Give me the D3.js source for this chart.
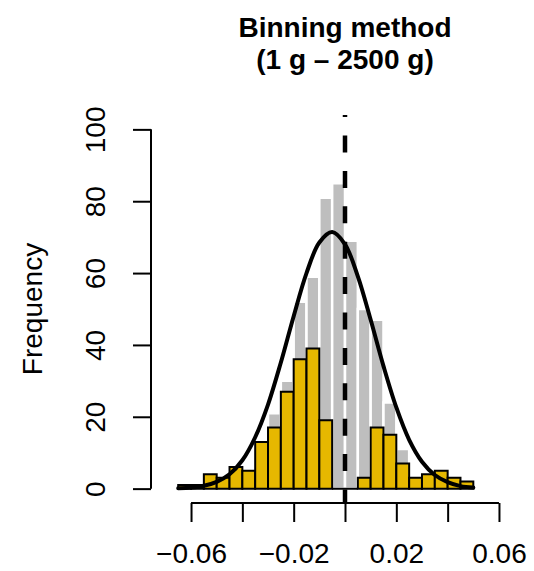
<!DOCTYPE html>
<html>
<head>
<meta charset="utf-8">
<script src="https://cdn.jsdelivr.net/npm/d3@7"></script>
<style>
  body { margin: 0; background: #fff; }
  svg { display: block; font-family: "Liberation Sans", Arial, Helvetica, sans-serif; }
</style>
</head>
<body>
<svg id="chart" width="534" height="571"></svg>
<script>
// bins (left edges), width 0.005
var binStarts = [-0.065, -0.06, -0.055, -0.05, -0.045, -0.04, -0.035, -0.03, -0.025, -0.02, -0.015, -0.01,
                 -0.005, 0, 0.005, 0.01, 0.015, 0.02, 0.025, 0.03, 0.035, 0.04, 0.045];
var binWidth = 0.005;
var grayCounts = [1, 1, 4, 3, 6, 5, 13, 21, 30, 52, 59, 81, 85, 69, 50, 47, 24, 11, 3, 4, 5, 3, 2];
var goldCounts = [1, 1, 4, 3, 6, 5, 13, 17, 27, 36, 39, 19, 0, 0, 3, 17, 15, 7, 3, 4, 5, 3, 2];

// fitted curve
var curveX = [-0.065, -0.06, -0.055, -0.05, -0.045, -0.04, -0.035, -0.03, -0.025, -0.02, -0.015, -0.01,
              -0.005, 0, 0.005, 0.01, 0.015, 0.02, 0.025, 0.03, 0.035, 0.04, 0.045, 0.05];
var curveY = [0.1, 0.3, 0.8, 1.9, 4.0, 7.9, 14.3, 23.4, 35.1, 48.0, 60.0, 68.5,
              71.4, 68.0, 59.1, 47.0, 34.1, 22.6, 13.6, 7.5, 3.8, 1.8, 0.7, 0.3];

var xTicks = [-0.06, -0.04, -0.02, 0, 0.02, 0.04, 0.06];
var xTickLabels = ["\u22120.06", "", "\u22120.02", "", "0.02", "", "0.06"];
var yTicks = [0, 20, 40, 60, 80, 100];
var titleLines = ["Binning method", "(1 g \u2013 2500 g)"];
var yTitle = "Frequency";
var refLine = 0;

var xlim = [-0.07, 0.07], ylim = [0, 100];

var svg = d3.select("#chart");
var plot = {left: 151, right: 539, top: 115, bottom: 503};

// R style 4% padding
var padX = (xlim[1] - xlim[0]) * 0.04, padY = (ylim[1] - ylim[0]) * 0.04;
var x = d3.scaleLinear().domain([xlim[0] - padX, xlim[1] + padX]).range([plot.left, plot.right]);
var y = d3.scaleLinear().domain([ylim[0] - padY, ylim[1] + padY]).range([plot.bottom, plot.top]);

var barPath = function(d, i, counts) {
    var x0 = x(d), x1 = x(d + binWidth), y0 = y(0), y1 = y(counts[i]);
    return "M" + x0 + "," + y0 + "H" + x1 + "V" + y1 + "H" + x0 + "Z";
};

svg.append("g").selectAll("path")
    .data(binStarts)
    .enter().append("path")
    .attr("d", function(d, i) { return barPath(d, i, grayCounts); })
    .attr("fill", "#bebebe")
    .attr("stroke", "#fff")
    .attr("stroke-width", 2.5);

svg.append("g").selectAll("path")
    .data(binStarts)
    .enter().append("path")
    .attr("d", function(d, i) { return barPath(d, i, goldCounts); })
    .attr("fill", "#e6b800")
    .attr("stroke", "#000")
    .attr("stroke-width", 2);

var line = d3.line()
    .x(function(d, i) { return x(curveX[i]); })
    .y(function(d) { return y(d); })
    .curve(d3.curveCatmullRom);

svg.append("path")
    .datum(curveY)
    .attr("d", line)
    .attr("fill", "none")
    .attr("stroke", "#000")
    .attr("stroke-width", 4)
    .attr("stroke-linecap", "round");

// vertical reference line, drawn bottom to top like abline
svg.append("line")
    .attr("x1", x(refLine)).attr("x2", x(refLine))
    .attr("y1", plot.bottom).attr("y2", plot.top)
    .attr("stroke", "#000")
    .attr("stroke-width", 4.5)
    .attr("stroke-dasharray", "17 18.4")
    .attr("stroke-dashoffset", 3.5);

// x axis
var xAxis = svg.append("g")
    .attr("transform", "translate(0," + plot.bottom + ")")
    .call(d3.axisBottom(x).tickValues(xTicks).tickSize(19)
        .tickFormat(function(d, i) { return xTickLabels[i]; }));
xAxis.select(".domain").remove();
xAxis.append("line")
    .attr("x1", x(xTicks[0])).attr("x2", x(xTicks[xTicks.length - 1]))
    .attr("stroke", "#000").attr("stroke-width", 2);
xAxis.selectAll(".tick line").attr("stroke-width", 2);
xAxis.selectAll(".tick text")
    .attr("y", 60).attr("dy", null)
    .attr("fill", "#000")
    .style("font-size", "28px")
    .style("font-family", "'Liberation Sans', Arial, sans-serif");

// y axis
var yAxis = svg.append("g")
    .attr("transform", "translate(" + plot.left + ",0)")
    .call(d3.axisLeft(y).tickValues(yTicks).tickSize(18));
yAxis.select(".domain").remove();
yAxis.append("line")
    .attr("y1", y(yTicks[0])).attr("y2", y(yTicks[yTicks.length - 1]))
    .attr("stroke", "#000").attr("stroke-width", 2);
yAxis.selectAll(".tick line").attr("stroke-width", 2);
yAxis.selectAll(".tick text")
    .attr("x", null).attr("dy", null)
    .attr("transform", "translate(-46,0) rotate(-90)")
    .attr("text-anchor", "middle")
    .attr("fill", "#000")
    .style("font-size", "28px")
    .style("font-family", "'Liberation Sans', Arial, sans-serif");

// titles
var cx = (plot.left + plot.right) / 2;
svg.append("text")
    .attr("x", cx).attr("y", 37)
    .attr("text-anchor", "middle")
    .style("font-size", "28px").style("font-weight", "bold")
    .text(titleLines[0]);
svg.append("text")
    .attr("x", cx).attr("y", 69)
    .attr("text-anchor", "middle")
    .style("font-size", "28px").style("font-weight", "bold")
    .text(titleLines[1]);

svg.append("text")
    .attr("transform", "translate(42," + ((plot.top + plot.bottom) / 2) + ") rotate(-90)")
    .attr("text-anchor", "middle")
    .style("font-size", "28px")
    .text(yTitle);
</script>
</body>
</html>
